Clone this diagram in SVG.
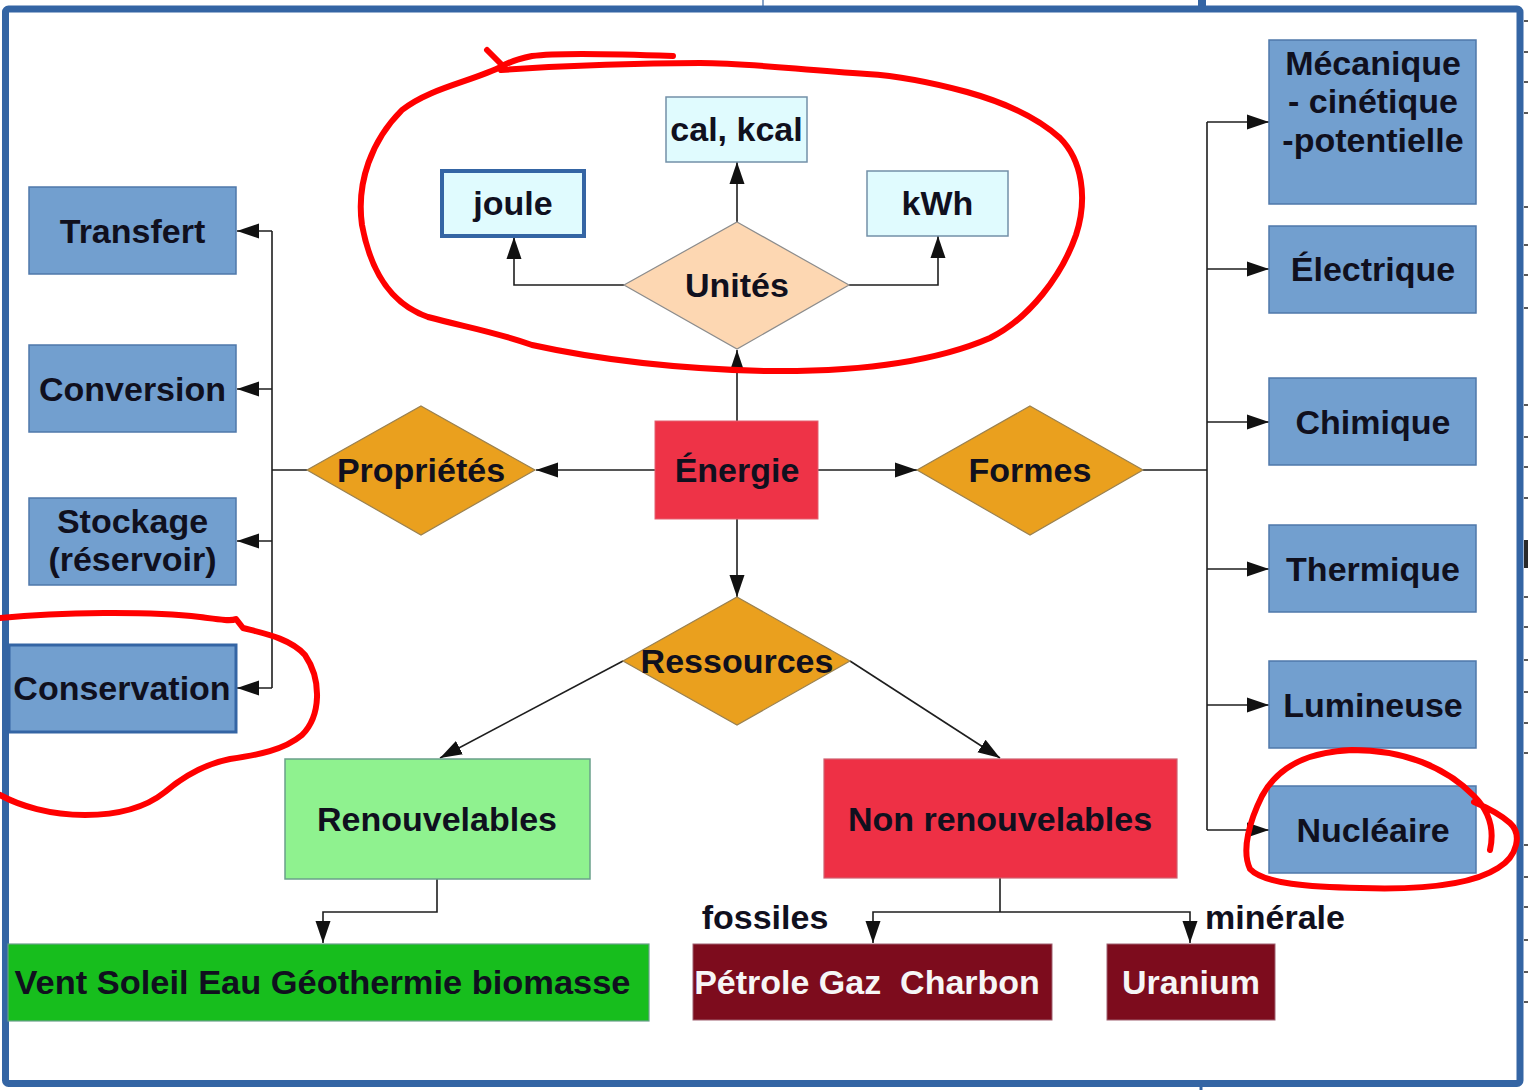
<svg xmlns="http://www.w3.org/2000/svg" width="1528" height="1090" viewBox="0 0 1528 1090">
<style>
.t{font-family:"Liberation Sans",Arial,sans-serif;font-weight:bold;font-size:34px;fill:#10101e;text-anchor:middle}
.w{fill:#f6f6f6}
.blue{fill:#729fcf;stroke:#4f78aa;stroke-width:1.5}
.cyan{fill:#e0fbfe;stroke:#7390a8;stroke-width:1.5}
.orange{fill:#eaa01e;stroke:#9a8150;stroke-width:1.2}
.c{fill:none;stroke:#1e1e1e;stroke-width:1.6;marker-end:url(#ah)}
.l{fill:none;stroke:#1e1e1e;stroke-width:1.6}
.red{fill:none;stroke:#ff0000;stroke-width:6;stroke-linecap:round;stroke-linejoin:round}
.tick{stroke:#222;stroke-width:1.5}
</style>
<defs>
<marker id="ah" markerWidth="23" markerHeight="16" refX="22" refY="8" orient="auto" markerUnits="userSpaceOnUse">
<path d="M0,0.5 L22,8 L0,15.5 z" fill="#111"/>
</marker>
</defs>
<rect x="0" y="0" width="1528" height="1090" fill="#fff"/>
<g id="frame">
<line x1="763" y1="0" x2="763" y2="9" stroke="#3465a4" stroke-width="1.2"/>
<line x1="1202" y1="0" x2="1202" y2="9" stroke="#3465a4" stroke-width="8"/>
<line x1="1201" y1="1084" x2="1201" y2="1090" stroke="#3465a4" stroke-width="3"/>
<rect x="5.5" y="9" width="1514.5" height="1074.5" rx="3" fill="#fff" stroke="#3465a4" stroke-width="7"/>
<g class="tick">
<line x1="1524" y1="21" x2="1528" y2="21"/><line x1="1524" y1="52" x2="1528" y2="52"/><line x1="1524" y1="82" x2="1528" y2="82"/><line x1="1524" y1="113" x2="1528" y2="113"/>
<line x1="1524" y1="207" x2="1528" y2="207"/><line x1="1524" y1="245" x2="1528" y2="245"/><line x1="1524" y1="275" x2="1528" y2="275"/><line x1="1524" y1="308" x2="1528" y2="308"/>
<line x1="1524" y1="405" x2="1528" y2="405"/><line x1="1524" y1="437" x2="1528" y2="437"/><line x1="1524" y1="467" x2="1528" y2="467"/><line x1="1524" y1="498" x2="1528" y2="498"/>
<line x1="1524" y1="597" x2="1528" y2="597"/><line x1="1524" y1="627" x2="1528" y2="627"/><line x1="1524" y1="660" x2="1528" y2="660"/><line x1="1524" y1="692" x2="1528" y2="692"/>
<line x1="1524" y1="723" x2="1528" y2="723"/><line x1="1524" y1="753" x2="1528" y2="753"/><line x1="1524" y1="845" x2="1528" y2="845"/><line x1="1524" y1="877" x2="1528" y2="877"/>
<line x1="1524" y1="907" x2="1528" y2="907"/><line x1="1524" y1="940" x2="1528" y2="940"/><line x1="1524" y1="972" x2="1528" y2="972"/><line x1="1524" y1="1002" x2="1528" y2="1002"/>
</g>
<rect x="1524" y="540" width="4" height="28" fill="#2a2a2a"/>
</g>

<g id="connectors">
<path class="c" d="M624,285 H514 V237"/>
<path class="c" d="M849,285 H938 V236"/>
<path class="c" d="M737,222 V162"/>
<path class="c" d="M737,421 V350"/>
<path class="c" d="M655,470 H536"/>
<path class="c" d="M818,470 H917"/>
<path class="c" d="M737,519 V597"/>
<path class="l" d="M307,470 H272 M272,231 V688"/>
<path class="c" d="M272,231 H237"/>
<path class="c" d="M272,389 H237"/>
<path class="c" d="M272,541 H237"/>
<path class="c" d="M272,688 H237"/>
<path class="l" d="M1143,470 H1207 M1207,122 V830"/>
<path class="c" d="M1207,122 H1269"/>
<path class="c" d="M1207,269 H1269"/>
<path class="c" d="M1207,422 H1269"/>
<path class="c" d="M1207,569 H1269"/>
<path class="c" d="M1207,705 H1269"/>
<path class="c" d="M1207,830 H1269"/>
<path class="c" d="M623,661 L440,758"/>
<path class="c" d="M850,661 L1000,758"/>
<path class="c" d="M437,879 V912 H323 V943"/>
<path class="l" d="M1000,878 V912"/>
<path class="c" d="M1000,912 H873 V943"/>
<path class="c" d="M1000,912 H1190 V943"/>
</g>

<g id="cal"><rect class="cyan" x="666" y="97" width="141" height="65"/><text class="t" x="736.5" y="141">cal, kcal</text></g>
<g id="joule"><rect x="442" y="171" width="142" height="65" fill="#e0fbfe" stroke="#3465a4" stroke-width="4"/><text class="t" x="513" y="215">joule</text></g>
<g id="kwh"><rect class="cyan" x="867" y="171" width="141" height="65"/><text class="t" x="937.5" y="215">kWh</text></g>
<g id="unites"><polygon points="737,222 849,285 737,349 624,285" fill="#fdd7b2" stroke="#8c8c8c" stroke-width="1.2"/><text class="t" x="737" y="297">Unités</text></g>

<g id="transfert"><rect class="blue" x="29" y="187" width="207" height="87"/><text class="t" x="132.5" y="243">Transfert</text></g>
<g id="conversion"><rect class="blue" x="29" y="345" width="207" height="87"/><text class="t" x="132.5" y="401">Conversion</text></g>
<g id="stockage"><rect class="blue" x="29" y="498" width="207" height="87"/><text class="t" x="132.5" y="533">Stockage</text><text class="t" x="132.5" y="571">(réservoir)</text></g>
<g id="conservation"><rect x="9" y="645" width="227" height="87" fill="#729fcf" stroke="#3465a4" stroke-width="3"/><text class="t" x="122" y="700">Conservation</text></g>

<g id="proprietes"><polygon points="421,406 535,470 421,535 307,470" class="orange"/><text class="t" x="421" y="482">Propriétés</text></g>
<g id="energie"><rect x="655" y="421" width="163" height="98" fill="#ee3347" stroke="#e46070" stroke-width="1"/><text class="t" x="737" y="482">Énergie</text></g>
<g id="formes"><polygon points="1030,406 1143,470 1030,535 917,470" class="orange"/><text class="t" x="1030" y="482">Formes</text></g>
<g id="ressources"><polygon points="737,597 850,661 737,725 623,661" class="orange"/><text class="t" x="737" y="673">Ressources</text></g>

<g id="mecanique"><rect class="blue" x="1269" y="40" width="207" height="164"/><text class="t" x="1373" y="75">Mécanique</text><text class="t" x="1373" y="113">- cinétique</text><text class="t" x="1373" y="152">-potentielle</text></g>
<g id="electrique"><rect class="blue" x="1269" y="226" width="207" height="87"/><text class="t" x="1373" y="281">Électrique</text></g>
<g id="chimique"><rect class="blue" x="1269" y="378" width="207" height="87"/><text class="t" x="1373" y="434">Chimique</text></g>
<g id="thermique"><rect class="blue" x="1269" y="525" width="207" height="87"/><text class="t" x="1373" y="581">Thermique</text></g>
<g id="lumineuse"><rect class="blue" x="1269" y="661" width="207" height="87"/><text class="t" x="1373" y="717">Lumineuse</text></g>
<g id="nucleaire"><rect class="blue" x="1269" y="786" width="207" height="87"/><text class="t" x="1373" y="842">Nucléaire</text></g>

<g id="renouvelables"><rect x="285" y="759" width="305" height="120" fill="#8ff28f" stroke="#6aa08a" stroke-width="1.5"/><text class="t" x="437" y="831">Renouvelables</text></g>
<g id="nonrenouvelables"><rect x="824" y="759" width="353" height="119" fill="#ee3045" stroke="#d06070" stroke-width="1.2"/><text class="t" x="1000" y="831">Non renouvelables</text></g>
<g id="vent"><rect x="8" y="944" width="641" height="77" fill="#17be1d" stroke="#6aa08a" stroke-width="1.2"/><text class="t" x="322.5" y="994" textLength="616" lengthAdjust="spacingAndGlyphs">Vent Soleil Eau Géothermie biomasse</text></g>
<g id="fossiles-label"><text class="t" x="765" y="929">fossiles</text></g>
<g id="minerale-label"><text class="t" x="1275" y="929">minérale</text></g>
<g id="petrole"><rect x="693" y="944" width="359" height="76" fill="#7d0c1d" stroke="#a06070" stroke-width="1"/><text class="t w" x="867" y="994" xml:space="preserve">Pétrole Gaz  Charbon</text></g>
<g id="uranium"><rect x="1107" y="944" width="168" height="76" fill="#7d0c1d" stroke="#a06070" stroke-width="1"/><text class="t w" x="1191" y="994">Uranium</text></g>

<g id="annotations">
<path class="red" d="M673,56 C620,54 560,52 532,56 C518,59 508,62 501,67"/>
<path class="red" d="M487,50 L503,66 C470,82 430,88 402,110 C372,140 356,182 362,225 C370,268 388,303 428,317 C465,327 492,331 532,345 C600,360 680,369 767,371 C850,372 930,364 990,338 C1030,318 1062,275 1076,235 C1088,198 1082,160 1060,138 C1040,120 1010,104 967,92 C930,82 900,76 867,74 C800,70 750,63 700,63 C640,63 560,66 501,70"/>
<path class="red" d="M0,618 C60,612 150,611 200,617 C218,619 230,622 236,619 L243,628 C262,633 290,638 305,655 C322,680 321,716 302,735 C284,750 258,755 230,759 C205,764 185,775 165,792 C145,808 120,815 85,815 C50,815 20,806 0,795"/>
<path class="red" d="M1490,850 C1495,828 1488,810 1474,796 C1446,767 1404,750 1352,750 C1302,752 1276,770 1262,796 C1250,820 1241,850 1250,869 C1264,884 1310,887 1360,888 C1420,890 1470,886 1498,868 C1518,856 1522,834 1510,823 C1500,814 1488,808 1474,802"/>
</g>
</svg>
